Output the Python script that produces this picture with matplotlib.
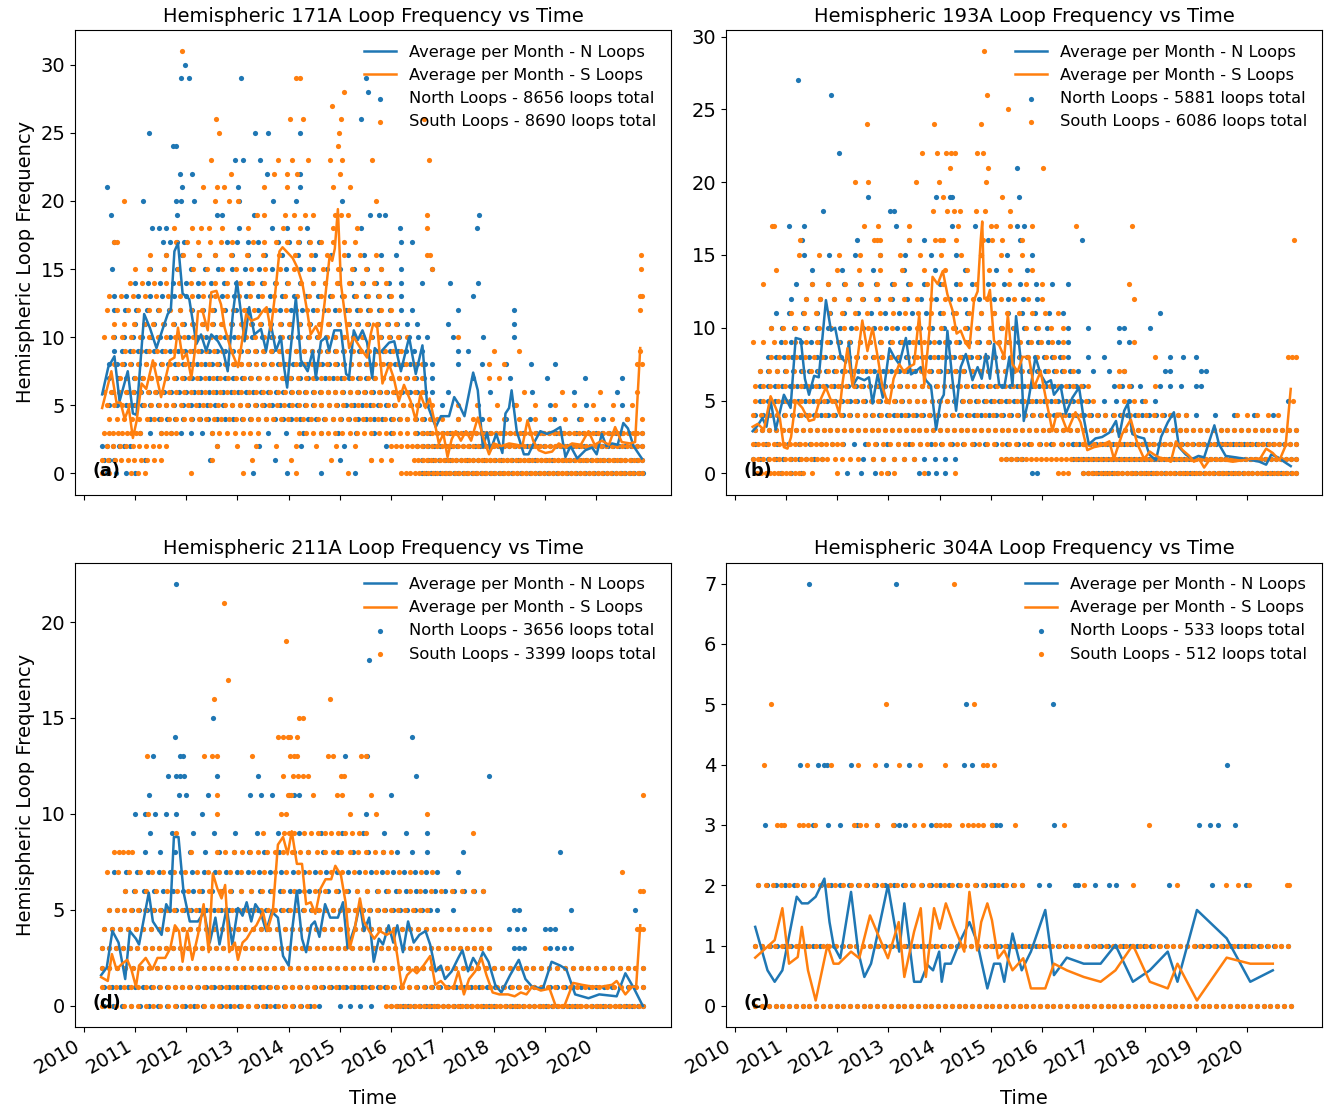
import numpy as np
import matplotlib
matplotlib.use("Agg")
import matplotlib.pyplot as plt

plt.rcParams['font.family'] = ['DejaVu Sans']
plt.rcParams['font.size'] = 11.7
plt.rcParams['xtick.labelsize'] = 14
plt.rcParams['ytick.labelsize'] = 14
plt.rcParams['axes.labelsize'] = 14

BLUE = '#1f77b4'
ORANGE = '#ff7f0e'

tick_years = [2010, 2011, 2012, 2013, 2014, 2015, 2016, 2017, 2018, 2019, 2020]

titles = ["Hemispheric 171A Loop Frequency vs Time", "Hemispheric 193A Loop Frequency vs Time",
          "Hemispheric 211A Loop Frequency vs Time", "Hemispheric 304A Loop Frequency vs Time"]
panel_tags = ["(a)", "(b)", "(d)", "(c)"]
north_totals = [8656, 5881, 3656, 533]
south_totals = [8690, 6086, 3399, 512]

# ---------------- monthly averages (decimal year, value) ----------------
a_n_t = [2010.36, 2010.48, 2010.60, 2010.70, 2010.86, 2010.96, 2011.03, 2011.18, 2011.29, 2011.42, 2011.55, 2011.64,
         2011.70, 2011.77, 2011.84, 2011.93, 2012.06, 2012.20, 2012.29, 2012.39, 2012.49, 2012.62, 2012.72, 2012.81,
         2012.91, 2012.99, 2013.14, 2013.23, 2013.33, 2013.46, 2013.56, 2013.65, 2013.75, 2013.85, 2013.91, 2013.97,
         2014.03, 2014.14, 2014.24, 2014.37, 2014.47, 2014.53, 2014.63, 2014.73, 2014.79, 2014.89, 2015.02, 2015.12,
         2015.18, 2015.27, 2015.35, 2015.44, 2015.53, 2015.63, 2015.68, 2015.77, 2015.96, 2016.06, 2016.19, 2016.35,
         2016.48, 2016.61, 2016.70, 2016.87, 2016.97, 2017.13, 2017.23, 2017.33, 2017.43, 2017.60, 2017.69, 2017.79,
         2017.87, 2017.94, 2018.05, 2018.17, 2018.23, 2018.30, 2018.35, 2018.45, 2018.59, 2018.68, 2018.78, 2018.91,
         2019.04, 2019.17, 2019.30, 2019.40, 2019.50, 2019.63, 2019.79, 2019.92, 2020.01, 2020.11, 2020.20, 2020.31,
         2020.42, 2020.53, 2020.62, 2020.73, 2020.89]
a_n_v = [5.8, 7.8, 8.6, 5.3, 7.5, 4.4, 4.3, 11.7, 10.7, 9.2, 10.7, 11.7,
         12.0, 16.3, 16.9, 13.2, 12.8, 9.5, 10.2, 9.0, 10.2, 9.7, 9.0, 7.5,
         11.7, 14.1, 9.7, 12.2, 10.2, 10.6, 9.0, 11.0, 9.0, 10.0, 7.8, 6.3,
         8.8, 12.9, 8.3, 7.5, 9.0, 7.0, 9.7, 10.0, 9.0, 10.5, 10.5, 7.3,
         7.1, 10.5, 9.8, 10.5, 9.6, 7.0, 9.2, 8.8, 9.6, 9.7, 7.5, 10.0,
         7.3, 9.4, 5.1, 3.4, 4.2, 4.2, 5.6, 5.0, 4.2, 7.4, 6.1, 1.9,
         3.0, 1.7, 2.9, 1.5, 4.4, 4.8, 6.1, 3.1, 1.4, 1.4, 2.2, 3.1,
         2.9, 3.1, 3.4, 1.2, 2.0, 1.1, 1.7, 1.9, 1.4, 2.9, 2.0, 2.2,
         2.1, 3.7, 3.3, 2.0, 1.1]
a_s_t = [2010.36, 2010.54, 2010.64, 2010.72, 2010.80, 2010.88, 2010.96, 2011.03, 2011.13, 2011.22, 2011.35, 2011.51,
         2011.68, 2011.77, 2011.84, 2011.93, 2012.01, 2012.10, 2012.17, 2012.23, 2012.32, 2012.42, 2012.49, 2012.59,
         2012.68, 2012.75, 2012.88, 2013.01, 2013.07, 2013.17, 2013.27, 2013.40, 2013.49, 2013.57, 2013.65, 2013.73,
         2013.82, 2013.88, 2013.98, 2014.08, 2014.17, 2014.27, 2014.37, 2014.43, 2014.53, 2014.62, 2014.70, 2014.76,
         2014.80, 2014.85, 2014.90, 2014.96, 2015.02, 2015.12, 2015.18, 2015.27, 2015.40, 2015.53, 2015.60, 2015.65,
         2015.73, 2015.83, 2015.96, 2016.05, 2016.15, 2016.25, 2016.38, 2016.48, 2016.57, 2016.67, 2016.75, 2016.84,
         2016.93, 2017.02, 2017.10, 2017.18, 2017.26, 2017.36, 2017.46, 2017.56, 2017.69, 2017.80, 2017.91, 2018.00,
         2018.15, 2018.30, 2018.45, 2018.56, 2018.66, 2018.77, 2018.88, 2019.01, 2019.14, 2019.27, 2019.40, 2019.53,
         2019.70, 2019.85, 2019.97, 2020.11, 2020.25, 2020.37, 2020.50, 2020.66, 2020.76, 2020.86]
a_s_v = [4.8, 7.5, 5.2, 5.2, 4.0, 4.8, 2.6, 3.8, 6.6, 6.2, 8.3, 5.6,
         8.3, 8.5, 10.7, 8.4, 8.8, 7.0, 9.0, 11.9, 11.9, 10.5, 13.3, 13.4,
         12.4, 10.7, 9.0, 7.8, 9.2, 11.7, 11.2, 11.4, 11.9, 12.2, 10.5, 13.0,
         16.3, 16.6, 16.2, 15.8, 15.1, 13.9, 11.7, 10.2, 10.8, 10.0, 12.5, 14.6,
         16.0, 15.6, 16.5, 19.4, 13.9, 11.0, 9.2, 10.0, 9.2, 8.5, 10.2, 11.0,
         10.7, 6.6, 8.0, 7.0, 5.3, 6.5, 5.3, 3.9, 5.8, 4.8, 5.5, 3.9,
         2.2, 2.9, 1.2, 2.5, 3.1, 2.4, 3.1, 2.4, 4.1, 2.6, 1.4, 2.2,
         2.0, 2.2, 2.1, 2.0, 3.9, 2.4, 1.7, 1.5, 1.6, 2.2, 1.9, 2.2,
         2.1, 3.1, 2.1, 2.4, 2.1, 3.4, 2.3, 2.2, 2.3, 9.2]

b_n_t = [2010.35, 2010.45, 2010.54, 2010.62, 2010.70, 2010.80, 2010.88, 2010.96, 2011.09, 2011.19, 2011.29, 2011.37,
         2011.45, 2011.55, 2011.64, 2011.78, 2011.88, 2011.96, 2012.07, 2012.17, 2012.23, 2012.30, 2012.40, 2012.53,
         2012.62, 2012.69, 2012.79, 2012.89, 2013.02, 2013.11, 2013.21, 2013.34, 2013.44, 2013.53, 2013.63, 2013.73,
         2013.83, 2013.93, 2014.02, 2014.08, 2014.15, 2014.25, 2014.32, 2014.41, 2014.51, 2014.64, 2014.74, 2014.82,
         2014.90, 2014.98, 2015.06, 2015.16, 2015.26, 2015.36, 2015.42, 2015.49, 2015.59, 2015.64, 2015.74, 2015.87,
         2015.97, 2016.07, 2016.17, 2016.23, 2016.36, 2016.46, 2016.59, 2016.72, 2016.80, 2016.91, 2017.04, 2017.17,
         2017.31, 2017.44, 2017.50, 2017.60, 2017.67, 2017.76, 2017.88, 2017.99, 2018.09, 2018.22, 2018.32, 2018.45,
         2018.57, 2018.67, 2018.80, 2018.93, 2019.05, 2019.16, 2019.36, 2019.45, 2019.58, 2019.78, 2019.95, 2020.10,
         2020.24, 2020.37, 2020.47, 2020.60, 2020.72, 2020.85]
b_n_v = [2.9, 3.3, 3.8, 3.2, 5.0, 3.0, 4.2, 5.4, 4.5, 9.3, 9.2, 6.5,
         5.4, 6.7, 6.6, 11.9, 9.8, 10.0, 8.0, 7.6, 9.0, 6.0, 6.6, 6.4,
         6.6, 4.8, 6.8, 5.2, 8.6, 8.0, 7.5, 9.3, 6.8, 7.0, 7.3, 6.4,
         6.0, 3.0, 5.0, 5.4, 9.8, 6.4, 4.3, 7.3, 8.2, 6.4, 7.3, 6.5,
         8.2, 6.5, 8.9, 6.1, 5.9, 8.0, 6.0, 10.8, 7.5, 3.6, 5.2, 8.0,
         6.8, 6.2, 6.4, 5.4, 6.0, 4.1, 5.2, 5.9, 4.0, 2.0, 2.4, 2.5,
         2.8, 3.6, 2.5, 4.3, 4.8, 2.7, 2.5, 2.4, 1.3, 0.9, 2.5, 3.5,
         4.2, 1.8, 1.3, 1.0, 1.2, 1.1, 3.3, 2.0, 1.2, 1.1, 1.0, 0.9,
         0.8, 0.6, 1.3, 1.1, 0.8, 0.5]
b_s_t = [2010.35, 2010.45, 2010.57, 2010.70, 2010.80, 2010.88, 2010.96, 2011.03, 2011.10, 2011.19, 2011.32, 2011.45,
         2011.55, 2011.64, 2011.78, 2011.88, 2011.96, 2012.04, 2012.10, 2012.20, 2012.30, 2012.40, 2012.49, 2012.59,
         2012.69, 2012.79, 2012.88, 2012.95, 2013.02, 2013.10, 2013.21, 2013.30, 2013.40, 2013.50, 2013.60, 2013.70,
         2013.80, 2013.86, 2013.96, 2014.06, 2014.15, 2014.25, 2014.33, 2014.41, 2014.50, 2014.58, 2014.67, 2014.74,
         2014.80, 2014.83, 2014.87, 2014.94, 2014.98, 2015.06, 2015.16, 2015.26, 2015.33, 2015.42, 2015.52, 2015.62,
         2015.74, 2015.84, 2015.97, 2016.08, 2016.20, 2016.28, 2016.36, 2016.49, 2016.65, 2016.75, 2016.88, 2017.01,
         2017.14, 2017.31, 2017.40, 2017.56, 2017.73, 2017.86, 2017.99, 2018.10, 2018.18, 2018.28, 2018.40, 2018.51,
         2018.61, 2018.74, 2018.87, 2018.96, 2019.06, 2019.16, 2019.28, 2019.42, 2019.55, 2019.72, 2019.90, 2020.10,
         2020.25, 2020.37, 2020.50, 2020.63, 2020.75, 2020.85]
b_s_v = [3.2, 3.4, 3.0, 5.3, 4.5, 3.8, 1.8, 1.7, 2.5, 5.0, 4.5, 3.6,
         3.7, 4.8, 5.9, 5.0, 5.0, 4.1, 6.1, 8.6, 6.0, 8.0, 10.5, 8.4,
         10.0, 8.0, 6.0, 5.2, 4.8, 6.5, 7.5, 7.0, 7.3, 7.5, 10.9, 6.1,
         9.8, 13.5, 13.0, 13.9, 12.3, 11.2, 9.6, 9.8, 9.0, 8.6, 11.9, 12.5,
         16.0, 17.3, 12.0, 12.1, 12.6, 9.1, 8.8, 8.0, 10.9, 7.5, 7.0, 8.0,
         8.0, 5.9, 7.0, 5.0, 2.9, 4.1, 4.1, 2.9, 4.2, 3.5, 1.6, 1.8,
         1.9, 2.2, 1.0, 2.7, 3.7, 2.0, 1.0, 1.5, 1.3, 1.1, 1.0, 0.8,
         2.2, 1.6, 1.2, 0.8, 1.0, 0.4, 1.0, 0.9, 0.9, 0.8, 0.9, 1.0,
         1.0, 1.7, 1.4, 0.9, 1.9, 5.8]

d_n_t = [2010.34, 2010.45, 2010.56, 2010.68, 2010.81, 2010.90, 2011.02, 2011.08, 2011.27, 2011.35, 2011.52, 2011.61,
         2011.69, 2011.76, 2011.85, 2011.95, 2012.07, 2012.23, 2012.35, 2012.46, 2012.57, 2012.65, 2012.79, 2012.90,
         2013.01, 2013.10, 2013.18, 2013.27, 2013.35, 2013.45, 2013.56, 2013.67, 2013.79, 2013.89, 2014.00, 2014.07,
         2014.16, 2014.26, 2014.34, 2014.44, 2014.51, 2014.60, 2014.71, 2014.81, 2014.96, 2015.06, 2015.15, 2015.30,
         2015.39, 2015.47, 2015.57, 2015.66, 2015.76, 2015.84, 2015.95, 2016.04, 2016.12, 2016.23, 2016.33, 2016.44,
         2016.55, 2016.67, 2016.76, 2016.87, 2016.97, 2017.05, 2017.18, 2017.31, 2017.39, 2017.50, 2017.60, 2017.69,
         2017.79, 2017.90, 2018.03, 2018.15, 2018.32, 2018.49, 2018.62, 2018.75, 2018.96, 2019.13, 2019.30, 2019.42,
         2019.59, 2019.85, 2020.06, 2020.40, 2020.57, 2020.74, 2020.91]
d_n_v = [1.6, 2.0, 3.9, 3.3, 1.4, 3.9, 3.5, 3.2, 5.9, 4.4, 3.7, 5.3,
         4.9, 8.8, 8.8, 5.9, 4.4, 4.4, 4.9, 3.3, 4.6, 3.2, 5.1, 3.2,
         5.1, 4.7, 5.4, 4.4, 5.3, 4.9, 3.9, 4.9, 4.6, 2.6, 2.1, 4.0,
         6.0, 3.5, 2.8, 4.2, 4.4, 3.6, 5.3, 4.6, 4.6, 5.4, 3.0, 4.2,
         5.3, 3.9, 4.6, 2.3, 3.5, 3.2, 4.2, 3.3, 4.2, 2.8, 4.4, 3.3,
         3.7, 3.9, 3.2, 1.8, 2.1, 1.4, 1.8, 2.5, 2.9, 1.8, 2.5, 2.1,
         2.8, 2.3, 1.1, 0.7, 1.6, 2.4, 1.4, 1.0, 0.9, 2.3, 2.1, 1.9,
         0.6, 0.4, 0.6, 0.5, 1.7, 0.9, 0.0]
d_s_t = [2010.34, 2010.47, 2010.55, 2010.64, 2010.75, 2010.85, 2010.93, 2011.02, 2011.08, 2011.21, 2011.34, 2011.44,
         2011.59, 2011.69, 2011.78, 2011.86, 2011.93, 2012.02, 2012.12, 2012.23, 2012.34, 2012.44, 2012.52, 2012.61,
         2012.69, 2012.76, 2012.84, 2012.95, 2013.01, 2013.10, 2013.18, 2013.27, 2013.37, 2013.50, 2013.58, 2013.69,
         2013.79, 2013.89, 2013.98, 2014.06, 2014.16, 2014.26, 2014.34, 2014.43, 2014.52, 2014.62, 2014.72, 2014.83,
         2014.91, 2015.02, 2015.11, 2015.19, 2015.28, 2015.39, 2015.47, 2015.57, 2015.67, 2015.78, 2015.91, 2016.04,
         2016.12, 2016.21, 2016.31, 2016.42, 2016.50, 2016.63, 2016.76, 2016.86, 2016.97, 2017.10, 2017.22, 2017.31,
         2017.42, 2017.52, 2017.64, 2017.76, 2017.86, 2017.98, 2018.11, 2018.28, 2018.41, 2018.53, 2018.64, 2018.75,
         2018.92, 2019.09, 2019.21, 2019.38, 2019.55, 2019.72, 2019.93, 2020.10, 2020.31, 2020.40, 2020.57, 2020.70,
         2020.78, 2020.86]
d_s_v = [1.5, 1.3, 2.7, 1.9, 2.2, 2.4, 1.9, 1.0, 2.1, 2.5, 1.9, 2.5,
         2.5, 3.0, 4.2, 3.9, 2.3, 3.9, 2.4, 3.7, 5.3, 2.8, 6.9, 6.1,
         5.6, 6.3, 2.8, 3.3, 2.4, 3.3, 3.5, 3.9, 4.2, 4.9, 3.9, 4.9,
         8.4, 8.8, 7.9, 9.1, 7.4, 7.4, 5.3, 5.4, 4.8, 6.1, 6.6, 6.6,
         7.3, 6.8, 5.4, 3.0, 3.9, 5.6, 4.4, 3.9, 3.5, 3.9, 3.7, 3.9,
         2.6, 0.9, 1.6, 1.9, 1.7, 2.1, 2.6, 1.1, 1.3, 0.9, 1.0, 1.8,
         0.6, 1.4, 1.8, 2.5, 1.6, 0.7, 0.6, 0.6, 0.5, 0.7, 0.6, 1.0,
         0.8, 0.9, 0.0, 0.0, 1.2, 1.1, 1.0, 1.0, 1.1, 1.3, 0.6, 1.0,
         1.0, 4.2]

c_n_t = [2010.40, 2010.64, 2010.78, 2010.93, 2011.21, 2011.31, 2011.43, 2011.58, 2011.75, 2011.85, 2011.93, 2012.06,
         2012.27, 2012.41, 2012.53, 2012.66, 2012.77, 2012.99, 2013.10, 2013.21, 2013.31, 2013.50, 2013.63, 2013.76,
         2013.87, 2013.99, 2014.04, 2014.10, 2014.22, 2014.39, 2014.58, 2014.73, 2014.93, 2015.06, 2015.18, 2015.26,
         2015.42, 2015.60, 2015.78, 2016.06, 2016.23, 2016.48, 2016.81, 2017.14, 2017.43, 2017.77, 2018.10, 2018.45,
         2018.64, 2019.02, 2019.60, 2020.06, 2020.50]
c_n_v = [1.31, 0.59, 0.40, 0.59, 1.81, 1.70, 1.70, 1.81, 2.11, 1.39, 1.00, 0.79,
         1.89, 0.90, 0.48, 0.70, 1.12, 2.00, 1.45, 0.90, 1.70, 0.40, 0.40, 0.68,
         0.59, 0.90, 0.40, 0.70, 0.70, 1.06, 1.39, 1.06, 0.29, 0.70, 0.70, 0.40,
         1.20, 0.59, 0.90, 1.59, 0.51, 0.80, 0.70, 0.70, 1.01, 0.40, 0.59, 0.90,
         0.40, 1.59, 1.12, 0.40, 0.59]
c_s_t = [2010.40, 2010.78, 2010.93, 2011.06, 2011.23, 2011.31, 2011.43, 2011.58, 2011.81, 2011.93, 2012.03, 2012.27,
         2012.43, 2012.64, 2012.99, 2013.20, 2013.31, 2013.50, 2013.63, 2013.73, 2013.89, 2014.00, 2014.12, 2014.27,
         2014.48, 2014.58, 2014.73, 2014.81, 2014.93, 2015.02, 2015.14, 2015.26, 2015.42, 2015.63, 2015.78, 2016.06,
         2016.23, 2016.48, 2016.81, 2017.14, 2017.43, 2017.77, 2018.10, 2018.45, 2018.64, 2019.02, 2019.60, 2020.06,
         2020.50]
c_s_v = [0.80, 1.09, 1.62, 0.70, 0.81, 1.31, 0.59, 0.09, 1.01, 0.70, 0.70, 0.90,
         0.79, 1.50, 0.79, 1.39, 0.48, 1.23, 1.62, 0.48, 1.62, 1.28, 1.70, 1.34,
         0.90, 1.89, 0.92, 1.39, 1.70, 1.42, 0.79, 0.92, 0.59, 0.79, 0.29, 0.29,
         0.70, 0.59, 0.48, 0.40, 0.59, 1.01, 0.40, 0.29, 0.70, 0.09, 0.80, 0.70,
         0.70]

# ---------------- daily loop counts, summarised as runs: (count level, first year, last year, number of days) --------
a_n_runs = [(0, 2010.45, 2011.0, 4), (0, 2013.3, 2015.3, 4), (0, 2016.6, 2020.92, 50),
            (1, 2010.4, 2010.6, 3), (1, 2011.2, 2015.0, 4), (1, 2016.6, 2020.9, 40),
            (2, 2010.35, 2010.9, 6), (2, 2012.6, 2015.9, 5), (2, 2016.5, 2020.9, 40),
            (3, 2011.1, 2012.5, 8), (3, 2013.6, 2016.0, 8), (3, 2016.5, 2020.9, 35),
            (4, 2011.3, 2016.8, 35), (4, 2017.3, 2020.6, 8),
            (5, 2010.5, 2016.7, 40), (5, 2017.0, 2020.5, 6),
            (6, 2010.4, 2016.8, 45), (6, 2017.1, 2020.4, 5),
            (7, 2010.5, 2016.8, 40), (7, 2017.6, 2020.5, 5),
            (8, 2010.5, 2016.8, 45), (8, 2017.3, 2019.2, 5),
            (9, 2010.6, 2016.6, 40), (9, 2017.3, 2017.5, 2),
            (10, 2010.6, 2016.7, 35), (10, 2017.2, 2018.4, 3),
            (11, 2011.0, 2016.5, 30), (11, 2017.1, 2018.4, 2),
            (12, 2010.6, 2016.4, 28), (12, 2017.3, 2018.4, 2),
            (13, 2010.6, 2016.2, 25), (13, 2017.6, 2017.6, 1),
            (14, 2011.0, 2016.2, 22), (14, 2016.6, 2017.7, 3),
            (15, 2011.3, 2015.8, 18), (15, 2010.55, 2010.55, 1), (15, 2016.2, 2016.8, 2),
            (16, 2011.6, 2015.8, 14), (16, 2016.1, 2016.1, 1),
            (17, 2010.6, 2010.6, 1), (17, 2011.55, 2011.95, 4), (17, 2012.8, 2013.4, 4),
            (17, 2013.8, 2014.6, 5), (17, 2016.2, 2016.4, 2)]
a_n_pts = [(18, 2011.34), (18, 2011.47), (18, 2011.60), (18, 2013.04), (18, 2013.68), (18, 2013.97), (18, 2014.35),
           (18, 2015.42), (18, 2016.18), (18, 2017.68), (19, 2010.53), (19, 2011.83), (19, 2012.61), (19, 2012.70),
           (19, 2013.32), (19, 2015.59), (19, 2015.76), (19, 2015.88), (19, 2017.71), (20, 2011.15), (20, 2011.81),
           (20, 2011.89), (20, 2012.16), (20, 2013.04), (20, 2013.70), (20, 2014.14), (20, 2015.05), (21, 2010.45),
           (21, 2011.92), (21, 2013.02), (21, 2014.23), (22, 2011.88), (22, 2012.12), (22, 2013.58), (22, 2014.23),
           (23, 2012.95), (23, 2013.11), (23, 2013.44), (24, 2011.74), (24, 2011.80), (25, 2011.28), (25, 2013.34),
           (25, 2013.59), (25, 2014.22), (26, 2015.42), (28, 2015.54), (29, 2015.51), (29, 2011.89), (29, 2012.05),
           (30, 2011.98), (29, 2013.07)]
a_s_runs = [(0, 2010.35, 2010.5, 2), (0, 2010.93, 2011.2, 3), (0, 2012.1, 2015.15, 4), (0, 2016.2, 2020.9, 55),
            (1, 2010.35, 2011.5, 10), (1, 2012.5, 2015.6, 5), (1, 2015.6, 2016.0, 3), (1, 2016.45, 2020.9, 55),
            (2, 2010.45, 2011.6, 10), (2, 2012.6, 2015.3, 8), (2, 2016.0, 2020.9, 50),
            (3, 2010.4, 2011.1, 9), (3, 2011.5, 2011.8, 4), (3, 2012.5, 2013.4, 7), (3, 2014.2, 2016.6, 18),
            (3, 2016.7, 2020.9, 45),
            (4, 2010.5, 2016.9, 45), (4, 2017.0, 2020.9, 14),
            (5, 2010.45, 2016.8, 45), (5, 2017.3, 2020.7, 10),
            (6, 2010.4, 2016.6, 45), (6, 2018.6, 2020.8, 4),
            (7, 2010.7, 2016.6, 40), (7, 2017.9, 2018.1, 2),
            (8, 2010.6, 2016.6, 40), (8, 2017.9, 2018.2, 2), (8, 2020.8, 2020.9, 2),
            (9, 2010.8, 2016.2, 35), (9, 2018.0, 2018.5, 2), (9, 2020.85, 2020.85, 1),
            (10, 2010.4, 2016.3, 35), (10, 2017.3, 2017.3, 1),
            (11, 2010.6, 2016.1, 30),
            (12, 2010.45, 2016.0, 28), (12, 2020.85, 2020.85, 1),
            (13, 2010.5, 2016.0, 25), (13, 2020.85, 2020.9, 2),
            (14, 2010.9, 2015.9, 22),
            (15, 2011.0, 2015.8, 18), (15, 2016.8, 2016.8, 1), (15, 2020.88, 2020.88, 1),
            (16, 2011.3, 2015.7, 15), (16, 2016.7, 2016.75, 2), (16, 2020.87, 2020.87, 1),
            (17, 2010.6, 2010.65, 2), (17, 2011.8, 2012.9, 6), (17, 2013.3, 2015.3, 10)]
a_s_pts = [(18, 2011.77), (18, 2012.11), (18, 2012.28), (18, 2012.44), (18, 2012.70), (18, 2013.21), (18, 2013.89),
           (18, 2014.23), (18, 2014.86), (18, 2015.33), (18, 2016.69), (19, 2013.38), (19, 2013.51), (19, 2013.93),
           (19, 2014.10), (19, 2014.31), (19, 2014.48), (19, 2014.91), (19, 2015.03), (19, 2015.16), (19, 2016.69),
           (20, 2010.79), (20, 2012.56), (20, 2012.83), (20, 2013.02), (20, 2015.70), (21, 2012.33), (21, 2012.60),
           (21, 2012.74), (21, 2013.51), (21, 2013.97), (21, 2014.87), (21, 2015.20), (22, 2012.87), (22, 2013.72),
           (22, 2013.97), (22, 2014.17), (22, 2015.01), (23, 2012.49), (23, 2013.80), (23, 2014.06), (23, 2014.37),
           (23, 2014.80), (23, 2015.05), (23, 2015.63), (23, 2016.73), (24, 2014.96), (25, 2012.65), (25, 2014.99),
           (26, 2012.59), (26, 2014.02), (26, 2014.28), (26, 2015.03), (26, 2016.65), (27, 2014.84), (28, 2015.08),
           (29, 2014.14), (29, 2014.23), (31, 2011.92)]

b_n_runs = [(0, 2010.9, 2011.3, 3), (0, 2012.2, 2013.0, 4), (0, 2013.6, 2014.1, 4), (0, 2015.8, 2015.9, 2),
            (0, 2016.8, 2020.95, 45),
            (1, 2010.35, 2011.7, 10), (1, 2012.5, 2014.3, 10), (1, 2015.3, 2015.6, 4), (1, 2016.6, 2020.95, 45),
            (2, 2010.4, 2016.6, 30), (2, 2016.6, 2020.95, 40),
            (3, 2010.4, 2020.95, 80),
            (4, 2010.4, 2018.8, 60), (4, 2019.0, 2020.5, 5),
            (5, 2010.5, 2016.9, 45), (5, 2017.2, 2018.2, 5), (5, 2020.8, 2020.8, 1),
            (6, 2010.5, 2016.8, 45), (6, 2017.4, 2017.9, 4), (6, 2018.3, 2018.7, 3), (6, 2019.0, 2019.1, 2),
            (7, 2010.5, 2016.7, 40), (7, 2017.0, 2017.6, 3), (7, 2018.4, 2018.5, 2), (7, 2019.1, 2019.2, 2),
            (8, 2010.65, 2016.5, 38), (8, 2016.9, 2017.2, 2), (8, 2018.5, 2019.0, 3),
            (9, 2010.9, 2016.5, 30), (9, 2017.5, 2017.7, 2),
            (10, 2010.7, 2016.1, 25), (10, 2016.5, 2016.9, 2), (10, 2017.5, 2017.6, 2), (10, 2018.1, 2018.1, 1),
            (11, 2010.8, 2016.4, 22), (11, 2018.3, 2018.3, 1),
            (12, 2011.1, 2015.9, 18),
            (13, 2011.2, 2016.5, 18),
            (14, 2011.5, 2015.7, 8),
            (15, 2011.35, 2015.8, 10)]
b_n_pts = [(16, 2011.31), (16, 2012.38), (16, 2013.41), (16, 2013.70), (16, 2014.95), (16, 2015.56), (16, 2016.78),
           (17, 2011.05), (17, 2011.35), (17, 2013.14), (17, 2014.24), (17, 2014.68), (17, 2015.5), (17, 2015.65),
           (18, 2011.72), (18, 2013.04), (18, 2013.10), (19, 2012.61), (19, 2013.92), (19, 2014.20), (19, 2014.24),
           (19, 2015.54), (21, 2015.51), (22, 2012.04), (26, 2011.88), (27, 2011.24)]
b_s_runs = [(0, 2010.44, 2011.33, 12), (0, 2011.5, 2012.0, 2), (0, 2012.85, 2013.1, 3), (0, 2013.7, 2014.3, 2),
            (0, 2016.3, 2016.5, 3), (0, 2016.8, 2020.95, 50),
            (1, 2010.35, 2011.7, 14), (1, 2011.8, 2012.4, 5), (1, 2012.7, 2013.5, 5), (1, 2015.2, 2020.95, 60),
            (2, 2010.35, 2012.1, 18), (2, 2012.6, 2016.8, 30), (2, 2016.8, 2020.95, 40),
            (3, 2010.4, 2020.95, 80),
            (4, 2010.35, 2018.8, 55), (4, 2019.8, 2020.6, 5),
            (5, 2010.4, 2017.0, 45), (5, 2017.6, 2018.0, 3), (5, 2020.9, 2020.9, 1),
            (6, 2010.4, 2016.9, 45), (6, 2017.5, 2017.7, 2), (6, 2018.2, 2018.2, 1),
            (7, 2010.5, 2016.6, 38), (7, 2017.5, 2017.6, 2),
            (8, 2010.7, 2016.4, 35), (8, 2018.2, 2018.2, 1), (8, 2020.8, 2020.95, 3),
            (9, 2010.35, 2016.4, 30), (9, 2017.8, 2017.8, 1),
            (10, 2010.7, 2016.4, 25),
            (11, 2011.1, 2016.3, 22),
            (12, 2011.4, 2016.0, 18), (12, 2017.8, 2017.8, 1),
            (13, 2010.55, 2010.55, 1), (13, 2011.5, 2016.0, 15), (13, 2017.7, 2017.7, 1),
            (14, 2010.8, 2010.8, 1), (14, 2012.0, 2015.8, 10),
            (15, 2011.25, 2015.6, 12)]
b_s_pts = [(16, 2011.28), (16, 2012.72), (16, 2012.78), (16, 2012.84), (16, 2013.40), (16, 2013.9), (16, 2014.0),
           (16, 2014.07), (16, 2014.32), (16, 2014.84), (16, 2015.02), (16, 2015.21), (16, 2015.6), (16, 2020.91),
           (17, 2010.72), (17, 2010.76), (17, 2012.52), (17, 2012.80), (17, 2013.41), (17, 2014.36), (17, 2015.0),
           (17, 2015.1), (17, 2015.38), (17, 2015.8), (17, 2016.66), (17, 2017.76), (18, 2013.87), (18, 2014.14),
           (18, 2014.28), (18, 2014.40), (18, 2014.70), (18, 2014.89), (18, 2015.38), (19, 2014.07), (19, 2015.22),
           (20, 2012.34), (20, 2012.61), (20, 2013.54), (20, 2013.98), (20, 2014.90), (21, 2014.20), (21, 2014.95),
           (21, 2016.02), (22, 2013.65), (22, 2013.95), (22, 2014.13), (22, 2014.22), (22, 2014.30), (22, 2014.73),
           (22, 2014.85), (24, 2012.59), (24, 2013.89), (24, 2014.80), (25, 2015.34), (26, 2014.92), (29, 2014.87)]

d_n_runs = [(0, 2010.4, 2014.6, 25), (0, 2015.0, 2015.6, 4), (0, 2016.0, 2020.92, 45),
            (1, 2010.4, 2020.92, 70),
            (2, 2010.35, 2020.92, 70),
            (3, 2010.35, 2017.9, 55), (3, 2018.4, 2018.6, 3), (3, 2019.1, 2019.5, 4),
            (4, 2010.4, 2017.9, 50), (4, 2018.3, 2018.6, 3), (4, 2019.0, 2019.2, 3),
            (5, 2010.5, 2016.9, 45), (5, 2017.2, 2017.3, 1), (5, 2018.4, 2018.5, 2), (5, 2019.5, 2019.5, 1),
            (5, 2020.75, 2020.75, 1),
            (6, 2010.8, 2017.8, 38),
            (7, 2010.6, 2016.9, 30), (7, 2017.3, 2017.3, 1),
            (8, 2011.2, 2016.7, 20), (8, 2017.4, 2017.4, 1), (8, 2019.3, 2019.3, 1),
            (9, 2011.3, 2016.7, 14),
            (10, 2011.0, 2011.8, 5), (10, 2012.3, 2012.3, 1), (10, 2015.5, 2015.5, 1)]
d_n_pts = [(11, 2011.28), (11, 2011.86), (11, 2012.0), (11, 2012.43), (11, 2013.24), (11, 2013.46), (11, 2013.67),
           (11, 2014.0), (11, 2014.1), (11, 2014.2), (11, 2016.0), (12, 2011.64), (12, 2011.81), (12, 2011.88),
           (12, 2011.96), (12, 2012.61), (12, 2013.40), (12, 2016.48), (12, 2017.91), (13, 2011.36), (13, 2011.87),
           (13, 2011.93), (13, 2015.09), (13, 2015.52), (14, 2011.79), (14, 2016.40), (15, 2012.52), (18, 2015.56),
           (22, 2011.81)]
d_s_runs = [(0, 2010.35, 2014.5, 30), (0, 2015.9, 2020.92, 55),
            (1, 2010.35, 2020.92, 75),
            (2, 2010.35, 2020.92, 70),
            (3, 2010.35, 2017.9, 55), (3, 2019.0, 2019.0, 1),
            (4, 2010.4, 2017.9, 50), (4, 2020.8, 2020.92, 3),
            (5, 2010.5, 2016.7, 45),
            (6, 2010.8, 2017.8, 35), (6, 2020.85, 2020.92, 2),
            (7, 2010.45, 2016.8, 30), (7, 2020.5, 2020.5, 1),
            (8, 2010.6, 2010.95, 5), (8, 2012.1, 2012.1, 1), (8, 2012.6, 2016.0, 22),
            (9, 2011.8, 2011.8, 1), (9, 2013.5, 2013.5, 1), (9, 2013.9, 2014.1, 3), (9, 2014.3, 2015.5, 10),
            (9, 2017.6, 2017.6, 1)]
d_s_pts = [(10, 2011.25), (10, 2012.6), (10, 2013.85), (10, 2013.95), (10, 2015.2), (10, 2015.7), (10, 2016.7),
           (11, 2012.6), (11, 2013.98), (11, 2014.05), (11, 2014.47), (11, 2014.95), (11, 2015.05), (11, 2015.6),
           (11, 2020.91), (12, 2013.88), (12, 2014.09), (12, 2014.18), (12, 2014.28), (12, 2014.37), (12, 2015.03),
           (12, 2015.08), (13, 2011.24), (13, 2012.34), (13, 2012.5), (13, 2012.6), (13, 2013.29), (13, 2014.03),
           (13, 2014.1), (13, 2014.17), (13, 2014.77), (13, 2014.86), (13, 2015.41), (13, 2015.51), (14, 2013.8),
           (14, 2013.88), (14, 2013.98), (14, 2014.02), (14, 2014.17), (15, 2014.2), (15, 2014.28), (16, 2012.55),
           (16, 2014.81), (17, 2012.81), (19, 2013.94), (21, 2012.74)]

c_n_runs = [(0, 2010.4, 2020.85, 80), (1, 2010.4, 2020.8, 75), (2, 2010.45, 2015.6, 30)]
c_n_pts = [(2, 2015.93), (2, 2016.14), (2, 2016.64), (2, 2016.7), (2, 2017.04), (2, 2017.31), (2, 2017.45),
           (2, 2018.48), (2, 2019.31), (2, 2019.98), (3, 2010.6), (3, 2011.53), (3, 2011.83), (3, 2012.05),
           (3, 2012.39), (3, 2012.77), (3, 2013.1), (3, 2013.2), (3, 2013.33), (3, 2013.83), (3, 2013.93),
           (3, 2015.02), (3, 2015.1), (3, 2015.18), (3, 2016.23), (3, 2019.06), (3, 2019.27), (3, 2019.43),
           (3, 2019.77), (4, 2011.27), (4, 2011.62), (4, 2011.74), (4, 2011.81), (4, 2012.27), (4, 2012.95),
           (4, 2013.41), (4, 2014.47), (4, 2014.64), (4, 2019.60), (5, 2014.52), (5, 2016.21), (7, 2011.45),
           (7, 2013.14)]
c_s_runs = [(0, 2010.4, 2020.85, 80), (1, 2010.4, 2020.8, 80), (2, 2010.45, 2015.6, 35)]
c_s_pts = [(2, 2016.81), (2, 2017.77), (2, 2018.64), (2, 2019.58), (2, 2019.83), (2, 2020.04), (2, 2020.77),
           (2, 2020.82), (3, 2010.83), (3, 2010.9), (3, 2010.97), (3, 2011.25), (3, 2011.33), (3, 2011.43),
           (3, 2011.57), (3, 2012.33), (3, 2012.45), (3, 2012.56), (3, 2012.78), (3, 2013.08), (3, 2013.5),
           (3, 2013.68), (3, 2013.93), (3, 2014.0), (3, 2014.1), (3, 2014.18), (3, 2014.43), (3, 2014.55),
           (3, 2014.65), (3, 2014.75), (3, 2014.85), (3, 2015.02), (3, 2015.47), (3, 2016.43), (3, 2018.08),
           (4, 2010.58), (4, 2011.41), (4, 2011.87), (4, 2012.40), (4, 2012.73), (4, 2013.21), (4, 2013.62),
           (4, 2014.10), (4, 2014.85), (4, 2014.93), (4, 2015.06), (5, 2010.70), (5, 2012.95), (5, 2014.66),
           (7, 2014.27)]


def expand(runs, pts):
    xs, ys = [], []
    for lvl, t0, t1, n in runs:
        ts = [t0] if n == 1 else list(np.linspace(t0, t1, n))
        xs += ts
        ys += [lvl] * len(ts)
    for lvl, t in pts:
        xs.append(t)
        ys.append(lvl)
    return xs, ys


panels = [
    (a_n_t, a_n_v, a_s_t, a_s_v, a_n_runs, a_n_pts, a_s_runs, a_s_pts),
    (b_n_t, b_n_v, b_s_t, b_s_v, b_n_runs, b_n_pts, b_s_runs, b_s_pts),
    (d_n_t, d_n_v, d_s_t, d_s_v, d_n_runs, d_n_pts, d_s_runs, d_s_pts),
    (c_n_t, c_n_v, c_s_t, c_s_v, c_n_runs, c_n_pts, c_s_runs, c_s_pts),
]

fig, axes = plt.subplots(2, 2, figsize=(13.39, 11.15), dpi=100, sharex=True)
axes = axes.ravel()

for i, ax in enumerate(axes):
    nt, nv, st, sv, nr, npn, sr, sps = panels[i]
    nx, ny = expand(nr, npn)
    sx, sy = expand(sr, sps)
    ln_n, = ax.plot(nt, nv, color=BLUE, lw=1.8, zorder=3)
    ln_s, = ax.plot(st, sv, color=ORANGE, lw=1.8, zorder=3)
    sc_n = ax.scatter(nx, ny, s=14, color=BLUE, linewidths=0, zorder=1)
    sc_s = ax.scatter(sx, sy, s=14, color=ORANGE, linewidths=0, zorder=2)
    ax.legend([ln_n, ln_s, sc_n, sc_s],
              ["Average per Month - N Loops", "Average per Month - S Loops",
               f"North Loops - {north_totals[i]} loops total", f"South Loops - {south_totals[i]} loops total"],
              loc='upper right', frameon=False)
    ax.set_title(titles[i], fontsize=14)
    ax.text(0.03, 0.04, panel_tags[i], transform=ax.transAxes, fontsize=12.7, fontweight='bold',
            ha='left', va='baseline', zorder=5)
    if i % 2 == 0:
        ax.set_ylabel("Hemispheric Loop Frequency")
    if i >= 2:
        ax.set_xlabel("Time", labelpad=8)

axes[0].set_xlim(2009.83, 2021.46)
axes[0].set_xticks(tick_years)
for ax in axes[2:]:
    ax.set_xticklabels([str(y) for y in tick_years], rotation=30, ha='right')
for ax in axes[:2]:
    ax.tick_params(labelbottom=False)

fig.subplots_adjust(left=0.056, right=0.9873, bottom=0.0789, top=0.9731, wspace=0.0923, hspace=0.1464)
fig.savefig("out.png", dpi=100)
